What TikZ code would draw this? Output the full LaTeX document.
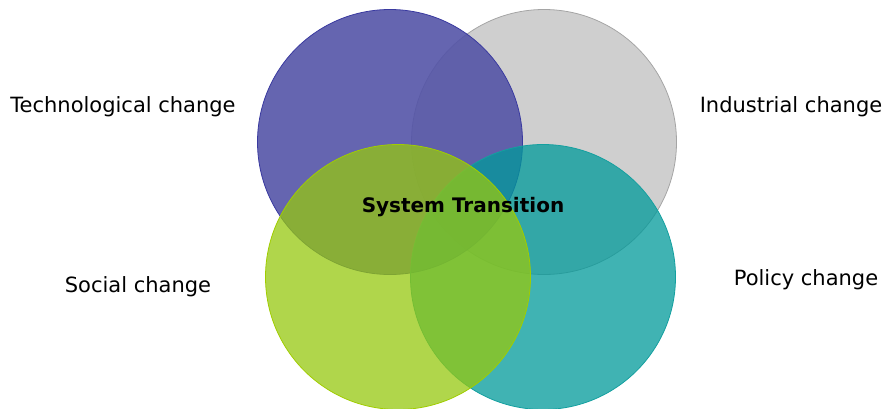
\documentclass[tikz,border=0pt]{standalone}
\usepackage{fontspec}
\setmainfont{DejaVu Sans}
\definecolor{techblue}{RGB}{84,84,167}
\definecolor{indgray}{RGB}{207,207,207}
\definecolor{polteal}{RGB}{0,154,154}
\definecolor{socgreen}{RGB}{150,200,15}
\tikzset{
  ring/.style={circle,minimum size=265pt,inner sep=0pt,line width=0.8pt},
  lbl/.style={font=\fontsize{21}{25}\selectfont,inner sep=0pt}
}
\begin{document}
\begin{tikzpicture}[x=1pt,y=-1pt]
\useasboundingbox (0,0) rectangle (883,408);
\node[ring,draw={rgb,255:red,165;green,165;blue,165},fill=indgray] (ind) at (544,142) {};
\node[ring,draw={rgb,255:red,58;green,58;blue,160},fill=techblue,fill opacity=0.9] (tech) at (390,142) {};
\node[ring,draw={rgb,255:red,20;green,160;blue,160},fill=polteal,fill opacity=0.75] (pol) at (543,277) {};
\node[ring,draw={rgb,255:red,160;green,205;blue,0},fill=socgreen,fill opacity=0.75] (soc) at (398,277) {};
\node[lbl] (techlbl) at (123,107) {Technological change};
\node[lbl] (indlbl) at (791,107) {Industrial change};
\node[lbl] (soclbl) at (138,287) {Social change};
\node[lbl] (pollbl) at (806,280) {Policy change};
\node[font=\bfseries\fontsize{20}{24}\selectfont,inner sep=0pt] (sys) at (463,207) {System Transition};
\end{tikzpicture}
\end{document}
